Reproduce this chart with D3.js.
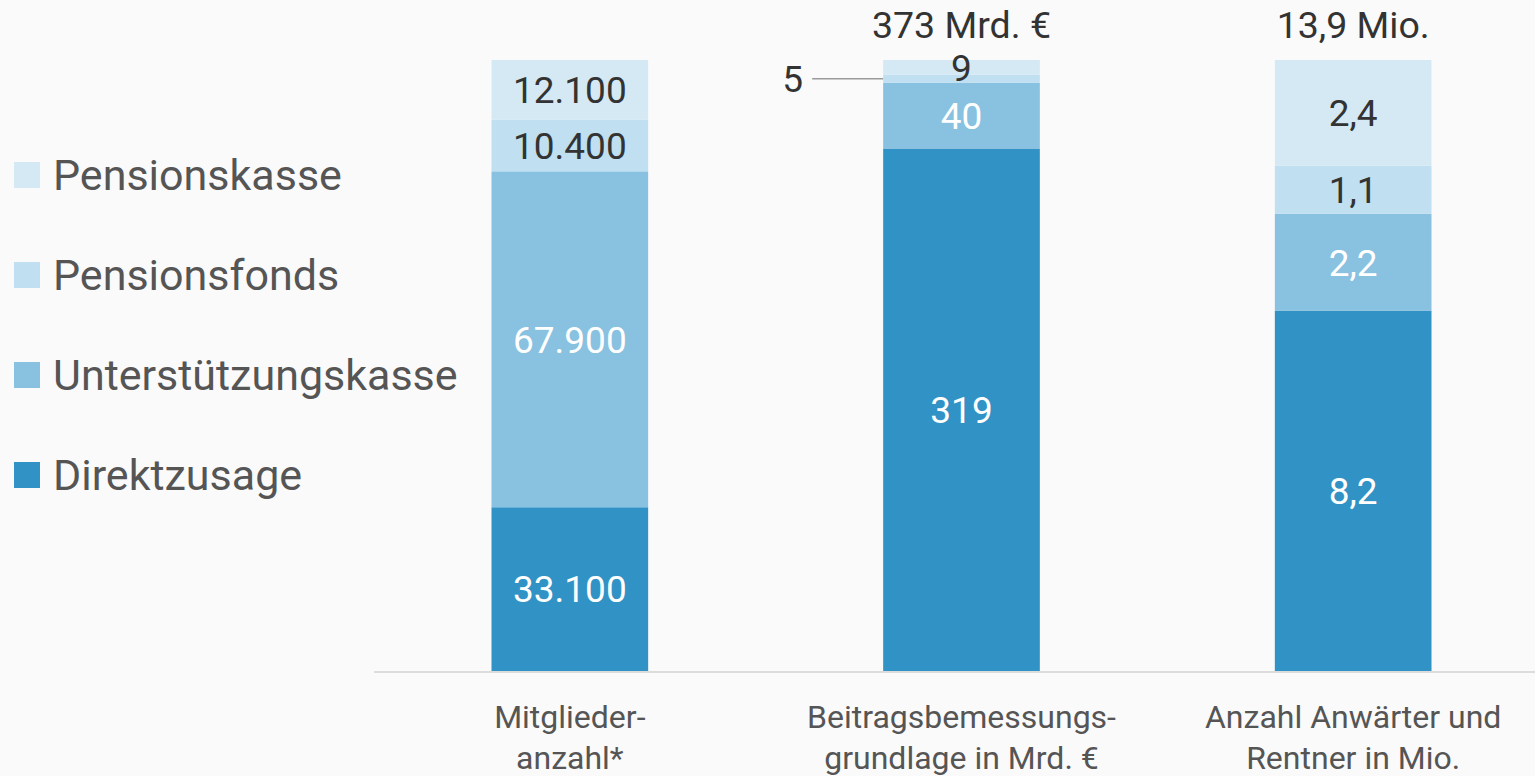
<!doctype html>
<meta charset="utf-8">
<style>
body { margin: 0; background: #fafafa; font-family: Roboto, "Noto Sans", sans-serif; }
svg { display: block; }
</style>
<body>
<div id="viz"></div>
<script src="https://d3js.org/d3.v7.min.js"></script>
<script>
// data
var categories = [["Mitglieder-", "anzahl*"], ["Beitragsbemessungs-", "grundlage in Mrd. €"], ["Anzahl Anwärter und", "Rentner in Mio."]];
var series = ["Direktzusage", "Unterstützungskasse", "Pensionsfonds", "Pensionskasse"];
var direktzusage = [33100, 319, 8.2];
var unterstuetzungskasse = [67900, 40, 2.2];
var pensionsfonds = [10400, 5, 1.1];
var pensionskasse = [12100, 9, 2.4];
var valueFormats = [",.0f", ".0f", ".1f"];
var totalSuffix = [null, " Mrd. €", " Mio."];
var colors = ["#3192c5", "#89c1e0", "#c0dff0", "#d5e9f5"];

var rows = [direktzusage, unterstuetzungskasse, pensionsfonds, pensionskasse];
var de = d3.formatLocale({decimal: ",", thousands: ".", grouping: [3], currency: ["", " €"]});

var W = 1535, H = 776;
var svg = d3.select("#viz").append("svg").attr("width", W).attr("height", H);

var x = d3.scaleBand().domain(d3.range(categories.length)).range([374, 1549]).paddingInner(0.6).paddingOuter(0.3);
var y = d3.scaleLinear().domain([0, 1]).range([671, 60]);
var color = d3.scaleOrdinal().domain(series).range(colors);

// build stacked shares
var table = categories.map(function(c, i) {
  var o = {i: i};
  var tot = d3.sum(rows, function(r) { return r[i]; });
  o.total = tot;
  series.forEach(function(s, k) { o[s] = rows[k][i] / tot; });
  return o;
});
var stack = d3.stack().keys(series)(table);

// baseline
svg.append("line").attr("x1", 374).attr("x2", W).attr("y1", 672).attr("y2", 672)
  .attr("stroke", "#dcdcdc").attr("stroke-width", 2);

var layer = svg.selectAll("g.layer").data(stack).enter().append("g").attr("class", "layer")
  .attr("fill", function(d) { return color(d.key); });

layer.selectAll("rect").data(function(d) { return d; }).enter().append("rect")
  .attr("x", function(d) { return x(d.data.i); })
  .attr("width", x.bandwidth())
  .attr("y", function(d) { return y(d[1]); })
  .attr("height", function(d) { return y(d[0]) - y(d[1]); });

// value labels
stack.forEach(function(s, k) {
  s.forEach(function(d) {
    var i = d.data.i;
    var v = rows[k][i];
    var txt = de.format(valueFormats[i])(v);
    var cy = (y(d[0]) + y(d[1])) / 2;
    var h = y(d[0]) - y(d[1]);
    var fill = k < 2 ? "#fff" : "#333";
    if (h < 12) {
      // too small: leader line to the left
      svg.append("line").attr("x1", x(i) - 71).attr("x2", x(i)).attr("y1", cy).attr("y2", cy)
        .attr("stroke", "#999").attr("stroke-width", 1.5);
      svg.append("text").attr("x", x(i) - 80).attr("y", cy).attr("dy", "0.36em")
        .attr("text-anchor", "end").attr("font-size", 37).attr("fill", "#333").text(txt);
    } else {
      svg.append("text").attr("x", x(i) + x.bandwidth() / 2).attr("y", cy).attr("dy", "0.36em")
        .attr("text-anchor", "middle").attr("font-size", 37).attr("fill", fill).text(txt);
    }
  });
});

// totals
table.forEach(function(d, i) {
  if (!totalSuffix[i]) return;
  svg.append("text").attr("x", x(i) + x.bandwidth() / 2).attr("y", 38)
    .attr("text-anchor", "middle").attr("font-size", 37.5).attr("fill", "#333")
    .text(de.format(valueFormats[i])(d.total) + totalSuffix[i]);
});

// category labels
categories.forEach(function(c, i) {
  var t = svg.append("text").attr("x", x(i) + x.bandwidth() / 2).attr("y", 728)
    .attr("text-anchor", "middle").attr("font-size", 32).attr("fill", "#555");
  c.forEach(function(line, j) {
    t.append("tspan").attr("x", x(i) + x.bandwidth() / 2).attr("dy", j ? 41 : 0).text(line);
  });
});

// legend (reversed)
var legend = svg.selectAll("g.legend").data(series.slice().reverse()).enter().append("g")
  .attr("class", "legend")
  .attr("transform", function(d, j) { return "translate(14," + (175 + j * 100) + ")"; });
legend.append("rect").attr("x", 0).attr("y", -13).attr("width", 26).attr("height", 26)
  .attr("fill", function(d) { return color(d); });
legend.append("text").attr("x", 39).attr("dy", "0.36em").attr("font-size", 43).attr("fill", "#555")
  .text(function(d) { return d; });
</script>
</body>
